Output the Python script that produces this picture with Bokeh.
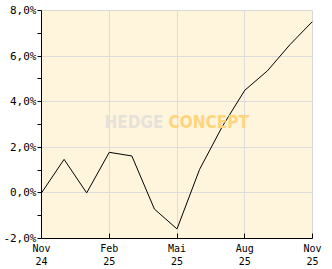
from bokeh.plotting import figure
from bokeh.models import Range1d, FixedTicker, Label
from bokeh.embed import file_html
from bokeh.resources import INLINE

months = ["Nov 24", "Dez 24", "Jan 25", "Feb 25", "Mär 25", "Apr 25", "Mai 25",
          "Jun 25", "Jul 25", "Aug 25", "Sep 25", "Okt 25", "Nov 25"]
values = [0.0, 1.47, 0.0, 1.78, 1.62, -0.71, -1.58, 1.03, 2.9, 4.5, 5.35, 6.5, 7.52]
x_tick_idx = [0, 3, 6, 9, 12]
x_tick_labels = ["Nov\n24", "Feb\n25", "Mai\n25", "Aug\n25", "Nov\n25"]
y_ticks = [-2, 0, 2, 4, 6, 8]
y_tick_labels = ["-2,0%", "0,0%", "2,0%", "4,0%", "6,0%", "8,0%"]

xs = list(range(len(months)))

p = figure(width=332, height=269, output_backend="svg", toolbar_location=None,
           x_range=Range1d(0, len(months) - 1), y_range=Range1d(-2, 8),
           min_border_left=36, min_border_right=20, min_border_top=10, min_border_bottom=31)
p.background_fill_color = "#FFF5DC"
p.border_fill_color = "white"
p.outline_line_color = "#D8D8D8"

font = "DejaVu Sans Mono"

p.xaxis.ticker = FixedTicker(ticks=x_tick_idx)
p.xaxis.major_label_overrides = {i: l for i, l in zip(x_tick_idx, x_tick_labels)}
p.yaxis.ticker = FixedTicker(ticks=y_ticks, minor_ticks=[-1, 1, 3, 5, 7])
p.yaxis.major_label_overrides = {v: l for v, l in zip(y_ticks, y_tick_labels)}

for ax in (p.xaxis, p.yaxis):
    ax.axis_line_color = "black"
    ax.major_tick_line_color = "black"
    ax.minor_tick_line_color = "black"
    ax.major_label_text_font = font
    ax.major_label_text_color = "black"

p.yaxis.major_label_text_font_size = "11px"
p.xaxis.major_label_text_font_size = "10px"
p.xaxis.major_tick_in = 5
p.xaxis.major_tick_out = 0
p.xaxis.minor_tick_line_color = None
p.xaxis.major_label_standoff = 4
p.yaxis.major_tick_in = 0
p.yaxis.major_tick_out = 4
p.yaxis.minor_tick_in = 0
p.yaxis.minor_tick_out = 4
p.yaxis.major_label_standoff = 1

p.xgrid.grid_line_color = "#DCDCDC"
p.ygrid.grid_line_color = "#DCDCDC"

p.add_layout(Label(x=122, y=117, x_units="screen", y_units="screen", text="HEDGE",
                   text_font="DejaVu Sans Condensed", text_font_style="bold",
                   text_font_size="17px", text_color="#E6E2DA", text_align="right",
                   text_baseline="middle"))
p.add_layout(Label(x=127, y=117, x_units="screen", y_units="screen", text="CONCEPT",
                   text_font="DejaVu Sans Condensed", text_font_style="bold",
                   text_font_size="17px", text_color="#FFD47E", text_align="left",
                   text_baseline="middle"))

p.line(xs, values, line_color="black", line_width=1)

open("out.html", "w").write(file_html(p, INLINE))
